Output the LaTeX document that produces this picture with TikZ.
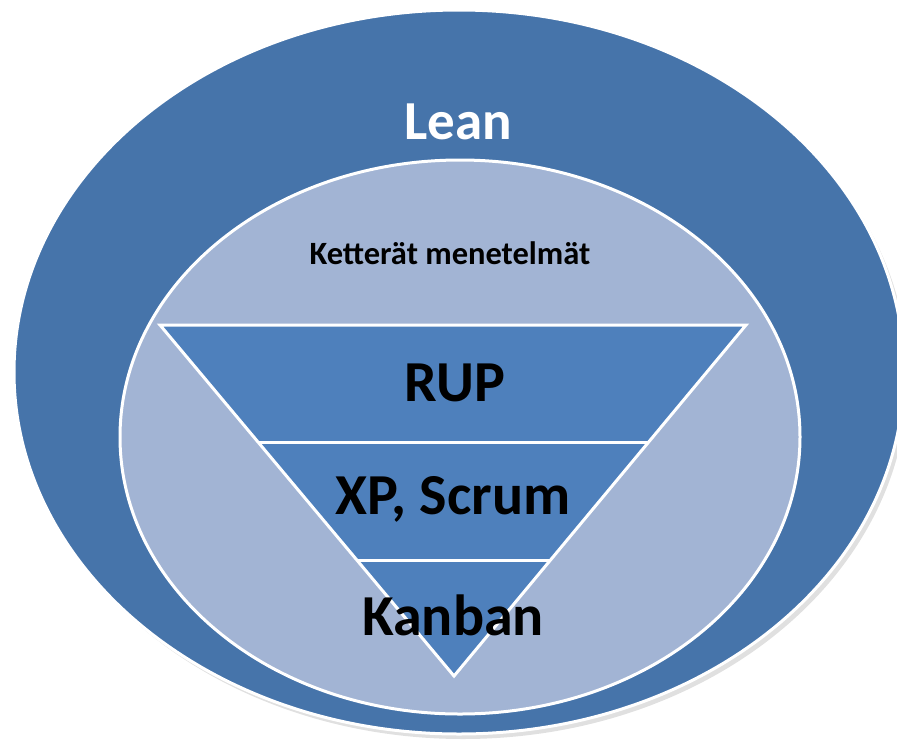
\documentclass[tikz,border=0pt]{standalone}
\usepackage{fontspec}
\setmainfont{Carlito}
\usepackage{xcolor}
\usetikzlibrary{calc}

\definecolor{leanblue}{HTML}{4674AA}
\definecolor{agileblue}{HTML}{A2B4D4}
\definecolor{layerblue}{HTML}{4E80BC}

\begin{document}
\begin{tikzpicture}[x=1pt, y=-1pt,
    rim/.style={draw=white, line width=3pt},
    label/.style={font=\bfseries\fontsize{58}{58}\selectfont, text=black}]
        \useasboundingbox (0,0) rectangle (897,740);
        
        % ============================================================
        % LEAN - outer ellipse
        % ============================================================
        \fill[black!12] (463,377) ellipse (445 and 362);
        \filldraw[rim, fill=leanblue] (459,372) ellipse (445 and 362);
        \node[text=white, font=\bfseries\fontsize{55}{55}\selectfont] (lean) at (458,122) {Lean};
        
        % ============================================================
        % KETTERÄT MENETELMÄT - inner ellipse
        % ============================================================
        \filldraw[rim, fill=agileblue] (460,437) ellipse (340 and 277);
        \node[text=black, font=\bfseries\fontsize{32.5}{32.5}\selectfont] (agile) at (450,253) {Ketterät menetelmät};
        
        % ============================================================
        % Inverted triangle with three layers
        % ============================================================
        \coordinate (tl) at (160,325);
        \coordinate (tr) at (746,325);
        \coordinate (apex) at (454,676);
        \filldraw[rim, fill=layerblue, line join=miter] (tl) -- (tr) -- (apex) -- cycle;
        \draw[rim] ($(tl)!0.336!(apex)$) -- ($(tr)!0.336!(apex)$);
        \draw[rim] ($(tl)!0.67!(apex)$) -- ($(tr)!0.67!(apex)$);
        
        \node[label] (rup) at (455,383) {RUP};
        \node[label] (xpscrum) at (453,499) {XP, Scrum};
        \node[label] (kanban) at (453,615) {Kanban};
        
    \end{tikzpicture}
\end{document}
